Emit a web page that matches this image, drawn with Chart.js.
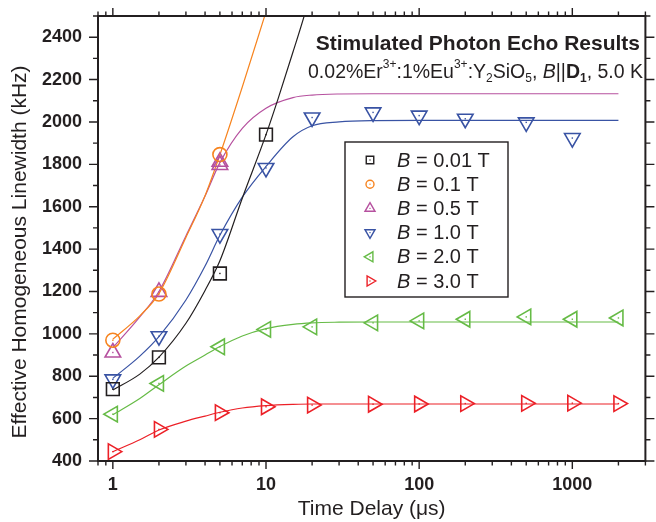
<!DOCTYPE html>
<html>
<head>
<meta charset="utf-8">
<script src="https://cdn.jsdelivr.net/npm/chart.js@4.4.1/dist/chart.umd.min.js"></script>
<style>
html, body { margin: 0; padding: 0; background: #fff; }
#wrap { width: 656px; height: 522px; }
</style>
</head>
<body>
<div id="wrap"><canvas id="echoChart"></canvas></div>
<script>
// measured linewidths (kHz) against time delay (us), one pair of arrays per field
var t001 = [1, 2, 5, 10];
var w001 = [739, 889, 1285, 1940];
var t01 = [1, 2, 5];
var w01 = [970, 1188, 1846];
var t05 = [1, 2, 5, 5];
var w05 = [912, 1198, 1812, 1797];
var t10 = [1, 2, 5, 10, 20, 50, 100, 200, 500, 1000];
var w10 = [785, 989, 1471, 1783, 2021, 2045, 2030, 2015, 1998, 1924];
var t20 = [1, 2, 5, 10, 20, 50, 100, 200, 500, 1000, 2000];
var w20 = [621, 766, 939, 1021, 1033, 1052, 1061, 1069, 1080, 1069, 1075];
var t30 = [1, 2, 5, 10, 20, 50, 100, 200, 500, 1000, 2000];
var w30 = [444, 549, 628, 656, 664, 668, 669, 671, 672, 673, 671];

// fit curves, sampled
var fitT001 = [1, 1.5, 2, 3, 4, 5, 7, 10, 12, 15, 18, 20];
var fit001 = [735, 810, 890, 1050, 1205, 1345, 1640, 1940, 2110, 2330, 2515, 2640];
var fitT01 = [1, 1.5, 2, 3, 4, 5, 7, 10];
var fit01 = [975, 1085, 1190, 1455, 1652, 1845, 2165, 2520];
var fitT = [1, 1.5, 2, 3, 4, 5, 7, 10, 15, 20, 30, 50, 100, 200, 500, 1000, 2000];
var fit05 = [935, 1080, 1200, 1462, 1650, 1808, 1970, 2065, 2115, 2127, 2132, 2133, 2133, 2133, 2133, 2133, 2133];
var fit10 = [790, 895, 987, 1160, 1320, 1465, 1645, 1790, 1930, 1982, 2000, 2006, 2007, 2007, 2007, 2007, 2007];
var fit20 = [618, 695, 760, 848, 900, 940, 990, 1025, 1045, 1052, 1055, 1056, 1056, 1056, 1056, 1056, 1056];
var fit30 = [444, 500, 546, 588, 612, 630, 650, 661, 667, 669, 669, 669, 669, 669, 669, 669, 669];

// axes
var xLabels = [1, 10, 100, 1000];
var xMinor = [0.8, 0.9, 2, 3, 4, 5, 6, 7, 8, 9, 20, 30, 40, 50, 60, 70, 80, 90,
              200, 300, 400, 500, 600, 700, 800, 900, 2000, 3000];
var yLabels = [400, 600, 800, 1000, 1200, 1400, 1600, 1800, 2000, 2200, 2400];
var yMinor = [500, 700, 900, 1100, 1300, 1500, 1700, 1900, 2100, 2300, 2500];

var ink = '#231f20';
var FONT = "'Liberation Sans', Arial, sans-serif";

function pts(xs, ys) {
    var out = [];
    for (var i = 0; i < xs.length; i++) out.push({x: xs[i], y: ys[i]});
    return out;
}

function markers(label, xs, ys, color, style, rot, r) {
    return {
        type: 'scatter', label: label, data: pts(xs, ys),
        pointStyle: style, rotation: rot, pointRadius: r, pointHoverRadius: r,
        borderColor: color, backgroundColor: 'rgba(0,0,0,0)',
        pointBorderWidth: 1.6, pointHoverBorderWidth: 1.6,
        legendRadius: style === 'circle' ? 4 : (style === 'rect' ? 5.3 : 5.8),
        order: 0
    };
}

function fit(xs, ys, color) {
    return {
        type: 'line', data: pts(xs, ys), isFit: true,
        borderColor: color, borderWidth: 1.2, pointRadius: 0,
        cubicInterpolationMode: 'monotone', fill: false, order: 1
    };
}

var cBlack = ink, cOrange = '#f7841f', cMagenta = '#b6519f',
    cBlue = '#3953a4', cGreen = '#66bb46', cRed = '#ec2027';

var datasets = [
    markers('B = 0.01 T', t001, w001, cBlack, 'rect', 0, 9),
    markers('B = 0.1 T', t01, w01, cOrange, 'circle', 0, 7),
    markers('B = 0.5 T', t05, w05, cMagenta, 'triangle', 0, 9),
    markers('B = 1.0 T', t10, w10, cBlue, 'triangle', 180, 9),
    markers('B = 2.0 T', t20, w20, cGreen, 'triangle', 270, 9),
    markers('B = 3.0 T', t30, w30, cRed, 'triangle', 90, 9),
    fit(fitT001, fit001, cBlack),
    fit(fitT01, fit01, cOrange),
    fit(fitT, fit05, cMagenta),
    fit(fitT, fit10, cBlue),
    fit(fitT, fit20, cGreen),
    fit(fitT, fit30, cRed)
];

// frame, ticks on all four sides, centre dots, legend box and the text blocks
var decorations = {
    id: 'decorations',
    afterDatasetsDraw: function(chart) {
        var ctx = chart.ctx, a = chart.chartArea;
        var xs = chart.scales.x, ys = chart.scales.y;
        ctx.save();

        // little dot in the middle of every marker
        chart.data.datasets.forEach(function(ds, i) {
            if (ds.isFit) return;
            ctx.fillStyle = ds.borderColor;
            chart.getDatasetMeta(i).data.forEach(function(el) {
                ctx.fillRect(el.x - 0.7, el.y - 0.7, 1.4, 1.4);
            });
        });

        ctx.strokeStyle = ink;
        ctx.lineWidth = 1.4;
        function xTick(v, len) {
            var p = xs.getPixelForValue(v);
            ctx.beginPath();
            ctx.moveTo(p, a.bottom); ctx.lineTo(p, a.bottom + len);
            ctx.moveTo(p, a.top); ctx.lineTo(p, a.top - len);
            ctx.stroke();
        }
        function yTick(v, len) {
            var p = ys.getPixelForValue(v);
            ctx.beginPath();
            ctx.moveTo(a.left - len, p); ctx.lineTo(a.left, p);
            ctx.moveTo(a.right, p); ctx.lineTo(a.right + len, p);
            ctx.stroke();
        }
        xLabels.forEach(function(v) { xTick(v, 8); });
        xMinor.forEach(function(v) { xTick(v, 4.5); });
        yLabels.forEach(function(v) { yTick(v, 9); });
        yMinor.forEach(function(v) { yTick(v, 5); });

        ctx.lineWidth = 2;
        ctx.strokeRect(a.left, a.top, a.right - a.left, a.bottom - a.top);

        // legend
        ctx.lineWidth = 1.4;
        ctx.strokeRect(345, 142, 163, 155);
        var rowY = 160;
        chart.data.datasets.forEach(function(ds) {
            if (ds.isFit) return;
            ctx.strokeStyle = ds.borderColor;
            ctx.fillStyle = 'rgba(0,0,0,0)';
            Chart.helpers.drawPoint(ctx, {
                pointStyle: ds.pointStyle, rotation: ds.rotation,
                radius: ds.legendRadius, borderWidth: 1.3
            }, 370, rowY);
            ctx.fillStyle = ds.borderColor;
            ctx.fillRect(369.4, rowY - 0.6, 1.2, 1.2);

            ctx.fillStyle = ink;
            ctx.textBaseline = 'middle';
            ctx.textAlign = 'left';
            ctx.font = 'italic 20px ' + FONT;
            ctx.fillText('B', 397, rowY + 1);
            var bw = ctx.measureText('B').width;
            ctx.font = '20px ' + FONT;
            ctx.fillText(ds.label.slice(1), 397 + bw, rowY + 1);
            rowY += 24.2;
        });

        // headline
        ctx.fillStyle = ink;
        ctx.textAlign = 'right';
        ctx.textBaseline = 'alphabetic';
        ctx.font = 'bold 21px ' + FONT;
        ctx.fillText('Stimulated Photon Echo Results', 640, 50);

        // sample line with super/subscripts
        var size = 19.5, small = 12;
        var parts = [
            ['0.02%Er', ''], ['3+', 'sup'], [':1%Eu', ''], ['3+', 'sup'],
            [':Y', ''], ['2', 'sub'], ['SiO', ''], ['5', 'sub'], [', ', ''],
            ['B', 'it'], ['||', ''], ['D', 'bold'], ['1', 'subbold'], [', 5.0 K', '']
        ];
        function fontFor(k) {
            if (k === 'sup' || k === 'sub') return small + 'px ' + FONT;
            if (k === 'subbold') return 'bold ' + small + 'px ' + FONT;
            if (k === 'it') return 'italic ' + size + 'px ' + FONT;
            if (k === 'bold') return 'bold ' + size + 'px ' + FONT;
            return size + 'px ' + FONT;
        }
        var total = 0;
        parts.forEach(function(p) { ctx.font = fontFor(p[1]); total += ctx.measureText(p[0]).width; });
        var x = 643 - total, base = 77.5;
        ctx.textAlign = 'left';
        parts.forEach(function(p) {
            ctx.font = fontFor(p[1]);
            var dy = p[1] === 'sup' ? -10 : (p[1].indexOf('sub') === 0 ? 4.5 : 0);
            ctx.fillText(p[0], x, base + dy);
            x += ctx.measureText(p[0]).width;
        });

        // axis titles
        ctx.font = '21px ' + FONT;
        ctx.textAlign = 'center';
        ctx.fillText('Time Delay (\u03bcs)', (a.left + a.right) / 2, 515);
        ctx.save();
        ctx.translate(26, 252);
        ctx.rotate(-Math.PI / 2);
        ctx.fillText('Effective Homogeneous Linewidth (kHz)', 0, 0);
        ctx.restore();

        ctx.restore();
    }
};

var ctx = document.getElementById('echoChart');
var echoChart = new Chart(ctx, {
    type: 'scatter',
    data: { datasets: datasets },
    options: {
        responsive: true,
        maintainAspectRatio: false,
        animation: false,
        layout: { padding: { top: 16, right: 5, left: 0, bottom: 0 } },
        plugins: { legend: { display: false }, tooltip: { enabled: false } },
        scales: {
            x: {
                type: 'logarithmic', min: 0.8, max: 3000,
                grid: { display: false, drawTicks: false },
                border: { display: false },
                afterBuildTicks: function(scale) {
                    scale.ticks = xLabels.map(function(v) { return {value: v}; });
                },
                afterFit: function(scale) {
                    scale.height = 61;
                    scale.paddingLeft = 0; scale.paddingRight = 0;
                },
                ticks: {
                    color: ink, padding: 13, maxRotation: 0, autoSkip: false,
                    font: { family: FONT, size: 18, weight: 'bold' },
                    callback: function(v) { return String(v); }
                }
            },
            y: {
                type: 'linear', min: 400, max: 2500,
                grid: { display: false, drawTicks: false },
                border: { display: false },
                afterBuildTicks: function(scale) {
                    scale.ticks = yLabels.map(function(v) { return {value: v}; });
                },
                afterFit: function(scale) {
                    scale.width = 98;
                    scale.paddingTop = 0; scale.paddingBottom = 0;
                },
                ticks: {
                    color: ink, padding: 16,
                    font: { family: FONT, size: 18, weight: 'bold' },
                    callback: function(v) { return String(v); }
                }
            }
        }
    },
    plugins: [decorations]
});
</script>
</body>
</html>
